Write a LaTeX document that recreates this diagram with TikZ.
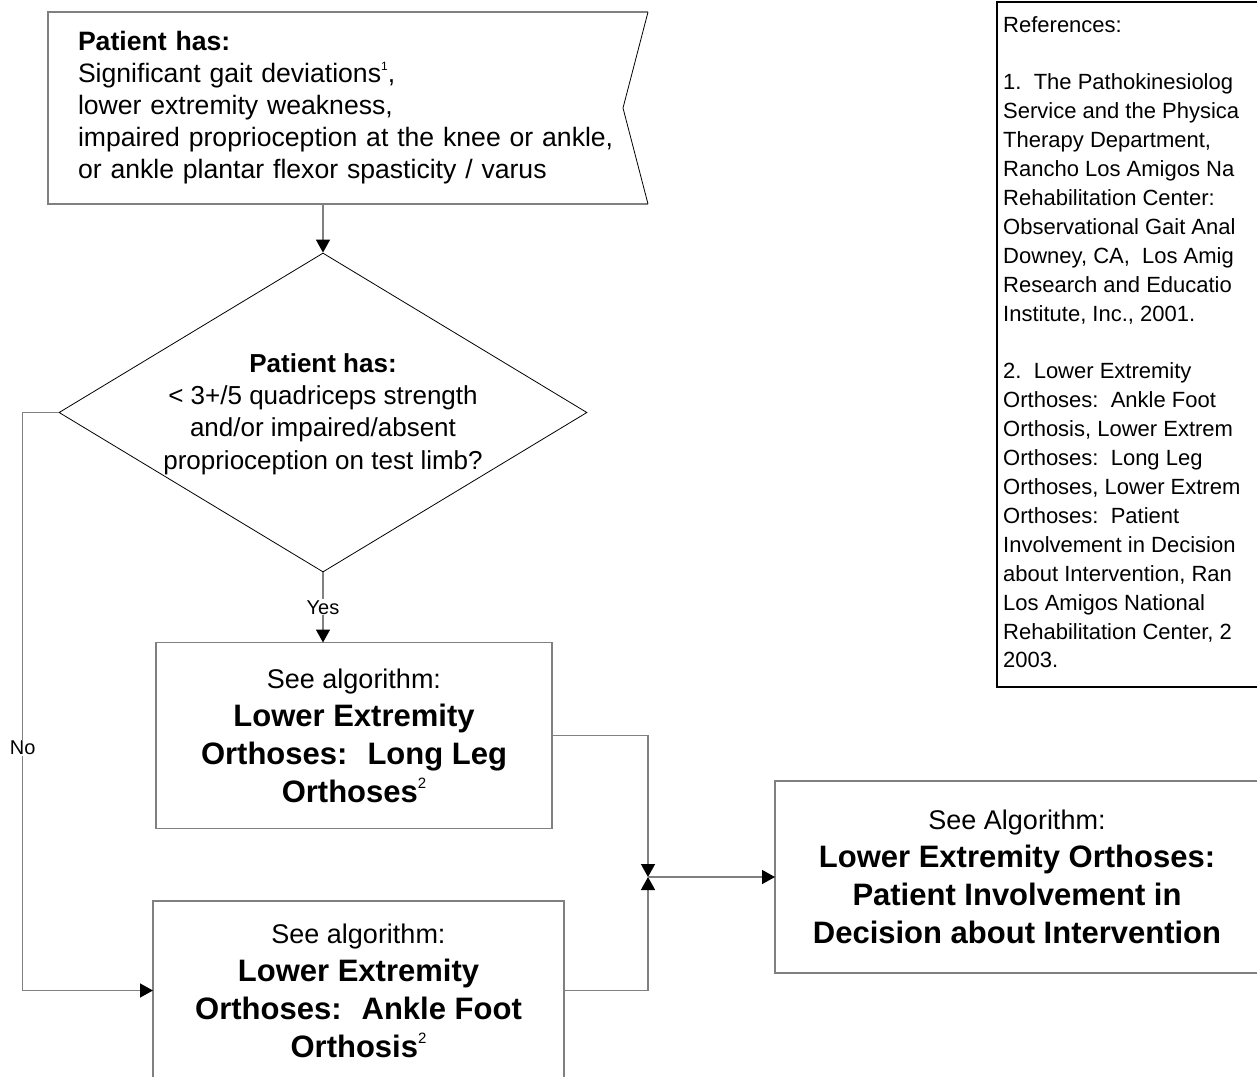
\documentclass[tikz,border=0pt]{standalone}
\usepackage{fontspec}
\setmainfont{Liberation Sans}
\usetikzlibrary{arrows.meta,shapes.geometric}

\definecolor{linegray}{RGB}{128,128,128}
\newcommand{\supnum}[2][12]{\raisebox{0.45em}{\fontsize{#1}{#1}\selectfont\mdseries #2}}
\newcommand{\seealg}[1]{{\mdseries\fontsize{27}{38}\selectfont #1}}

\tikzset{
  box/.style={rectangle, draw=linegray, line width=1.5pt, inner sep=0pt, outer sep=0pt, align=center},
  flow/.style={draw=linegray, line width=1.5pt},
  tip/.style={-{Triangle[length=13pt,width=14pt,color=black,fill=black]}},
  plain/.style={font=\fontsize{26.6}{32}\selectfont},
  heavy/.style={font=\fontsize{31}{38}\selectfont\bfseries},
  small/.style={font=\fontsize{20}{24}\selectfont, fill=white, inner sep=1pt}
}

\begin{document}
\begin{tikzpicture}[x=1pt,y=-1pt]
  \useasboundingbox (0,0) rectangle (1257,1076);

  \node[plain, align=left, text width=540pt, minimum height=192pt, inner xsep=30pt, inner ysep=0pt, outer sep=0pt] (start) at (348,108)
    {\textbf{Patient has:}\\ Significant gait deviations\supnum{1},\\ lower extremity weakness,\\
     impaired proprioception at the knee or ankle,\\ or ankle plantar flexor spasticity / varus};
  \draw[flow] (start.north east) -- (start.north west) -- (start.south west) -- (start.south east);
  \draw[line width=0.8pt] (start.north east) -- ([xshift=-25pt]start.east) -- (start.south east);

  \node[diamond, draw, line width=0.8pt, minimum width=528pt, minimum height=319pt, inner sep=0pt] (test) at (323,412.5) {};
  \node[plain, font=\fontsize{26}{32.3}\selectfont, align=center] (testtext) at (323,414)
    {\textbf{Patient has:}\\ < 3+/5 quadriceps strength\\ and/or impaired/absent\\ proprioception on test limb?};

  \node[box, heavy, minimum width=396pt, minimum height=186pt] (longleg) at (354,735.5)
    {\seealg{See algorithm:}\\ Lower Extremity\\ Orthoses:~ Long Leg\\ Orthoses\supnum[15]{2}};
  \node[box, heavy, minimum width=411pt, minimum height=179pt] (ankle) at (358.5,990.5)
    {\seealg{See algorithm:}\\ Lower Extremity\\ Orthoses:~ Ankle Foot\\ Orthosis\supnum[15]{2}};
  \node[box, heavy, minimum width=484pt, minimum height=192pt] (goal) at (1017,877)
    {\seealg{See Algorithm:}\\ Lower Extremity Orthoses:\\ Patient Involvement in\\ Decision about Intervention};

  \node[draw, line width=2pt, minimum width=300pt, minimum height=685pt, inner sep=0pt, anchor=north west] (refs) at (996,1) {};
  \node[anchor=north west, align=left, inner sep=0pt, font=\fontsize{22}{28.9}\selectfont] (reftext) at (1003,16)
    {References:\\ \mbox{}\\ 1.\ \ The Pathokinesiolog\\ Service and the Physica\\ Therapy Department,\\
     Rancho Los Amigos Na\\ Rehabilitation Center:\\ Observational Gait Anal\\ Downey, CA,\ \ Los Amig\\
     Research and Educatio\\ Institute, Inc., 2001.\\ \mbox{}\\ 2.\ \ Lower Extremity\\ Orthoses:\ \ Ankle Foot\\
     Orthosis, Lower Extrem\\ Orthoses:\ \ Long Leg\\ Orthoses, Lower Extrem\\ Orthoses:\ \ Patient\\
     Involvement in Decision\\ about Intervention, Ran\\ Los Amigos National\\ Rehabilitation Center, 2\\ 2003.};

  \coordinate (join) at (648,877);

  \draw[flow,tip] (test.north |- start.south) -- (test.north);
  \draw[flow,tip] (test.south) -- node[small] (yes) {Yes} (test.south |- longleg.north);
  \draw[flow,tip] (test.west) -- ++(-36,0) |- node[small, pos=0.29] (no) {No} (ankle.west);
  \draw[flow,tip] (longleg.east) -| (join);
  \draw[flow,tip] (ankle.east) -| (join);
  \draw[flow,tip] (join) -- (goal.west);
\end{tikzpicture}
\end{document}
